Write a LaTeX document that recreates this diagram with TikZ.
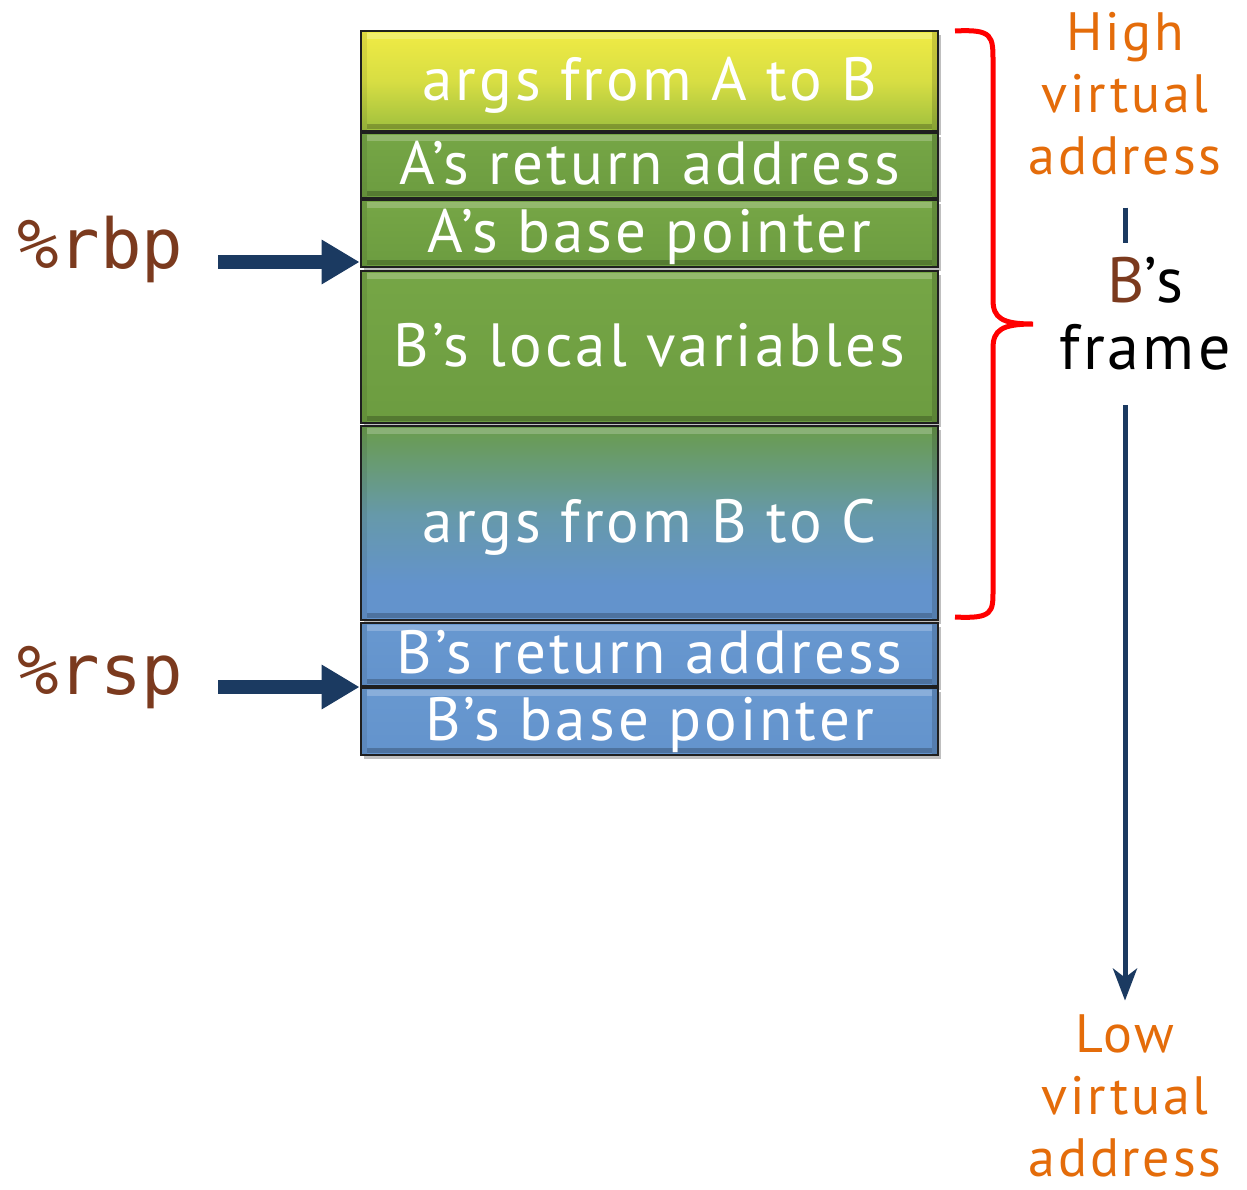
\documentclass[tikz,border=0pt]{standalone}
\usepackage{fontspec}
\setmainfont{PT Sans}[LetterSpace=5]
\setmonofont{DejaVu Sans Mono}
\usetikzlibrary{arrows.meta,shadows}
\definecolor{ylwtop}{HTML}{F0EB45}
\definecolor{ylwbot}{HTML}{9EBF3E}
\definecolor{grn}{HTML}{6C9C40}
\definecolor{grnlt}{HTML}{76A646}
\definecolor{grnb}{HTML}{6A9C4C}
\definecolor{teal}{HTML}{6699AA}
\definecolor{blu}{HTML}{6393CC}
\definecolor{blult}{HTML}{6898D0}
\definecolor{navy}{HTML}{1B3A61}
\definecolor{orng}{HTML}{E46C0A}
\definecolor{brwn}{HTML}{7B3A1E}
\pgfdeclareverticalshading{grnblu}{100bp}{color(0bp)=(blu); color(25bp)=(blu); color(34bp)=(blu); color(52bp)=(teal); color(75bp)=(grnb); color(100bp)=(grnb)}
\tikzset{
  blk/.style={draw=black!88, line width=2.8pt, minimum width=577pt, inner sep=0pt,
    text=white, font=\fontsize{61}{61}\selectfont, text height=43pt, text depth=5pt,
    drop shadow={shadow xshift=3pt, shadow yshift=-4pt, opacity=.5},
    path picture={
      \fill[white,opacity=.22] ([xshift=6pt,yshift=-2pt]path picture bounding box.north west) rectangle ([xshift=-6pt,yshift=-8pt]path picture bounding box.north east);
      \fill[black,opacity=.22] ([xshift=6pt,yshift=2pt]path picture bounding box.south west) rectangle ([xshift=-6pt,yshift=7pt]path picture bounding box.south east);
      \fill[black,opacity=.15] ([xshift=-6pt]path picture bounding box.north east) rectangle (path picture bounding box.south east);
      \fill[black,opacity=.08] ([xshift=6pt]path picture bounding box.north west) rectangle (path picture bounding box.south west);
    }},
  reg/.style={font=\ttfamily\fontsize{69}{69}\selectfont, text=brwn, inner sep=0pt, anchor=base west},
  ptr/.style={navy, line width=14pt, -{Triangle[length=38pt,width=42pt]}},
  addr/.style={text=orng, font=\fontsize{54}{62}\selectfont, align=center, inner sep=0pt},
  dirline/.style={navy, line width=5pt},
}
\begin{document}
\begin{tikzpicture}[x=1pt,y=-1pt]
\useasboundingbox[fill=white] (0,0) rectangle (1247,1189);

\node[blk, top color=ylwtop, bottom color=ylwbot, middle color=ylwtop!70!ylwbot, minimum height=100pt] (b1) at (649.5,81) {args from A to B};
\node[blk, top color=grnlt, bottom color=grn, minimum height=65pt] (b2) at (649.5,165.5) {A’s return address};
\node[blk, top color=grnlt, bottom color=grn, minimum height=67pt] (b3) at (649.5,233.5) {A’s base pointer};
\node[blk, top color=grnlt, bottom color=grn, minimum height=152pt] (b4) at (649.5,347) {B’s local variables};
\node[blk, shading=grnblu, minimum height=194pt] (b5) at (649.5,523) {args from B to C};
\node[blk, top color=blult, bottom color=blu, minimum height=63pt] (b6) at (649.5,654.5) {B’s return address};
\node[blk, top color=blult, bottom color=blu, minimum height=67pt] (b7) at (649.5,721.5) {B’s base pointer};

\node[reg] (rbp) at (17,268) {\%rbp};
\node[reg] (rsp) at (17,694) {\%rsp};
\coordinate (rbptail) at (218,262);
\coordinate (rsptail) at (218,687);
\draw[ptr] (rbptail) -- (rbptail -| b3.west);
\draw[ptr] (rsptail) -- (rsptail -| b7.west);

\draw[red, line width=5pt] (955,31) .. controls (993,29) and (993,36) .. (993,62)
  -- (993,300) .. controls (993,318) and (1002,324) .. (1033,324)
  .. controls (1002,324) and (993,330) .. (993,348)
  -- (993,590) .. controls (993,612) and (993,619) .. (955,617);

\node[addr] (high) at (1125,94) {High\\virtual\\address};
\node[addr] (low) at (1125,1096) {Low\\virtual\\address};
\node[font=\fontsize{64}{67}\selectfont, align=center, inner sep=0pt] (frame) at (1145,313.5) {\textcolor{brwn}{B}’s\\frame};

\draw[dirline, shorten <=32pt, shorten >=14pt] (high.south) -- (high.south |- frame.north);
\draw[dirline, shorten <=35pt, shorten >=14pt, -{Stealth[length=32pt,width=24pt,inset=9pt]}] (high.south |- frame.south) -- (low.north);
\end{tikzpicture}
\end{document}
